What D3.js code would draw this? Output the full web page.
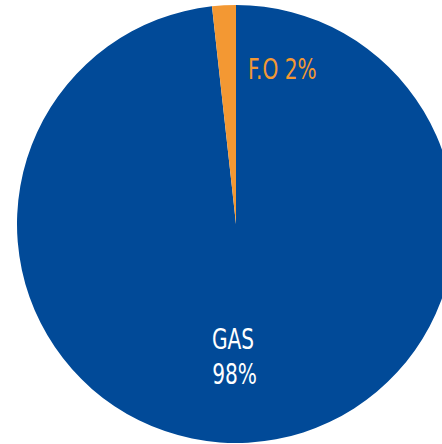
<!DOCTYPE html>
<html lang="en">
<head>
  <meta charset="UTF-8">
  <title>Fuel mix</title>
  <script src="https://d3js.org/d3.v7.min.js"></script>
  <style>
    body { margin: 0; background: #fff; }
    svg text { font-family: "DejaVu Sans Condensed", "Liberation Sans Narrow", sans-serif; }
  </style>
</head>
<body>
  <svg width="442" height="444"></svg>
  <script>
    const fuels = ["GAS", "F.O"];
    const shares = [98.25, 1.75];
    const colors = ["#014a98", "#f39833"];

    const svg = d3.select("svg"),
          cx = 236, cy = 224, radius = 219;

    const g = svg.append("g").attr("transform", `translate(${cx},${cy})`);

    const pie = d3.pie().sort(null).value(d => d.value);
    const arcs = pie(fuels.map((f, i) => ({name: f, value: shares[i], color: colors[i]})));

    const arc = d3.arc().innerRadius(0).outerRadius(radius);

    g.selectAll("path")
      .data(arcs)
      .enter().append("path")
      .attr("d", arc)
      .attr("fill", d => d.data.color);

    // squeeze the text a bit, the original font is a condensed one
    const squeeze = 0.8;

    // GAS label, two lines, inside the big slice
    const gas = arcs[0];
    const c = d3.arc().innerRadius(128).outerRadius(128).centroid(gas);
    const gasText = g.append("text")
      .attr("transform", `translate(${c[0] - 10},${c[1] - 3}) scale(${squeeze},1)`)
      .attr("text-anchor", "middle")
      .attr("fill", "#fff")
      .style("font-size", "28px");
    gasText.append("tspan").attr("x", 0).attr("dy", 0).text(gas.data.name);
    gasText.append("tspan").attr("x", 2).attr("dy", 35).text(Math.round(gas.data.value) + "%");

    // F.O label sits to the right of the thin slice
    const fo = arcs[1];
    g.append("text")
      .attr("transform", `translate(12,-145) scale(${squeeze},1)`)
      .attr("fill", fo.data.color)
      .style("font-size", "28px")
      .text(fo.data.name + " " + Math.round(fo.data.value) + "%");
  </script>
</body>
</html>
